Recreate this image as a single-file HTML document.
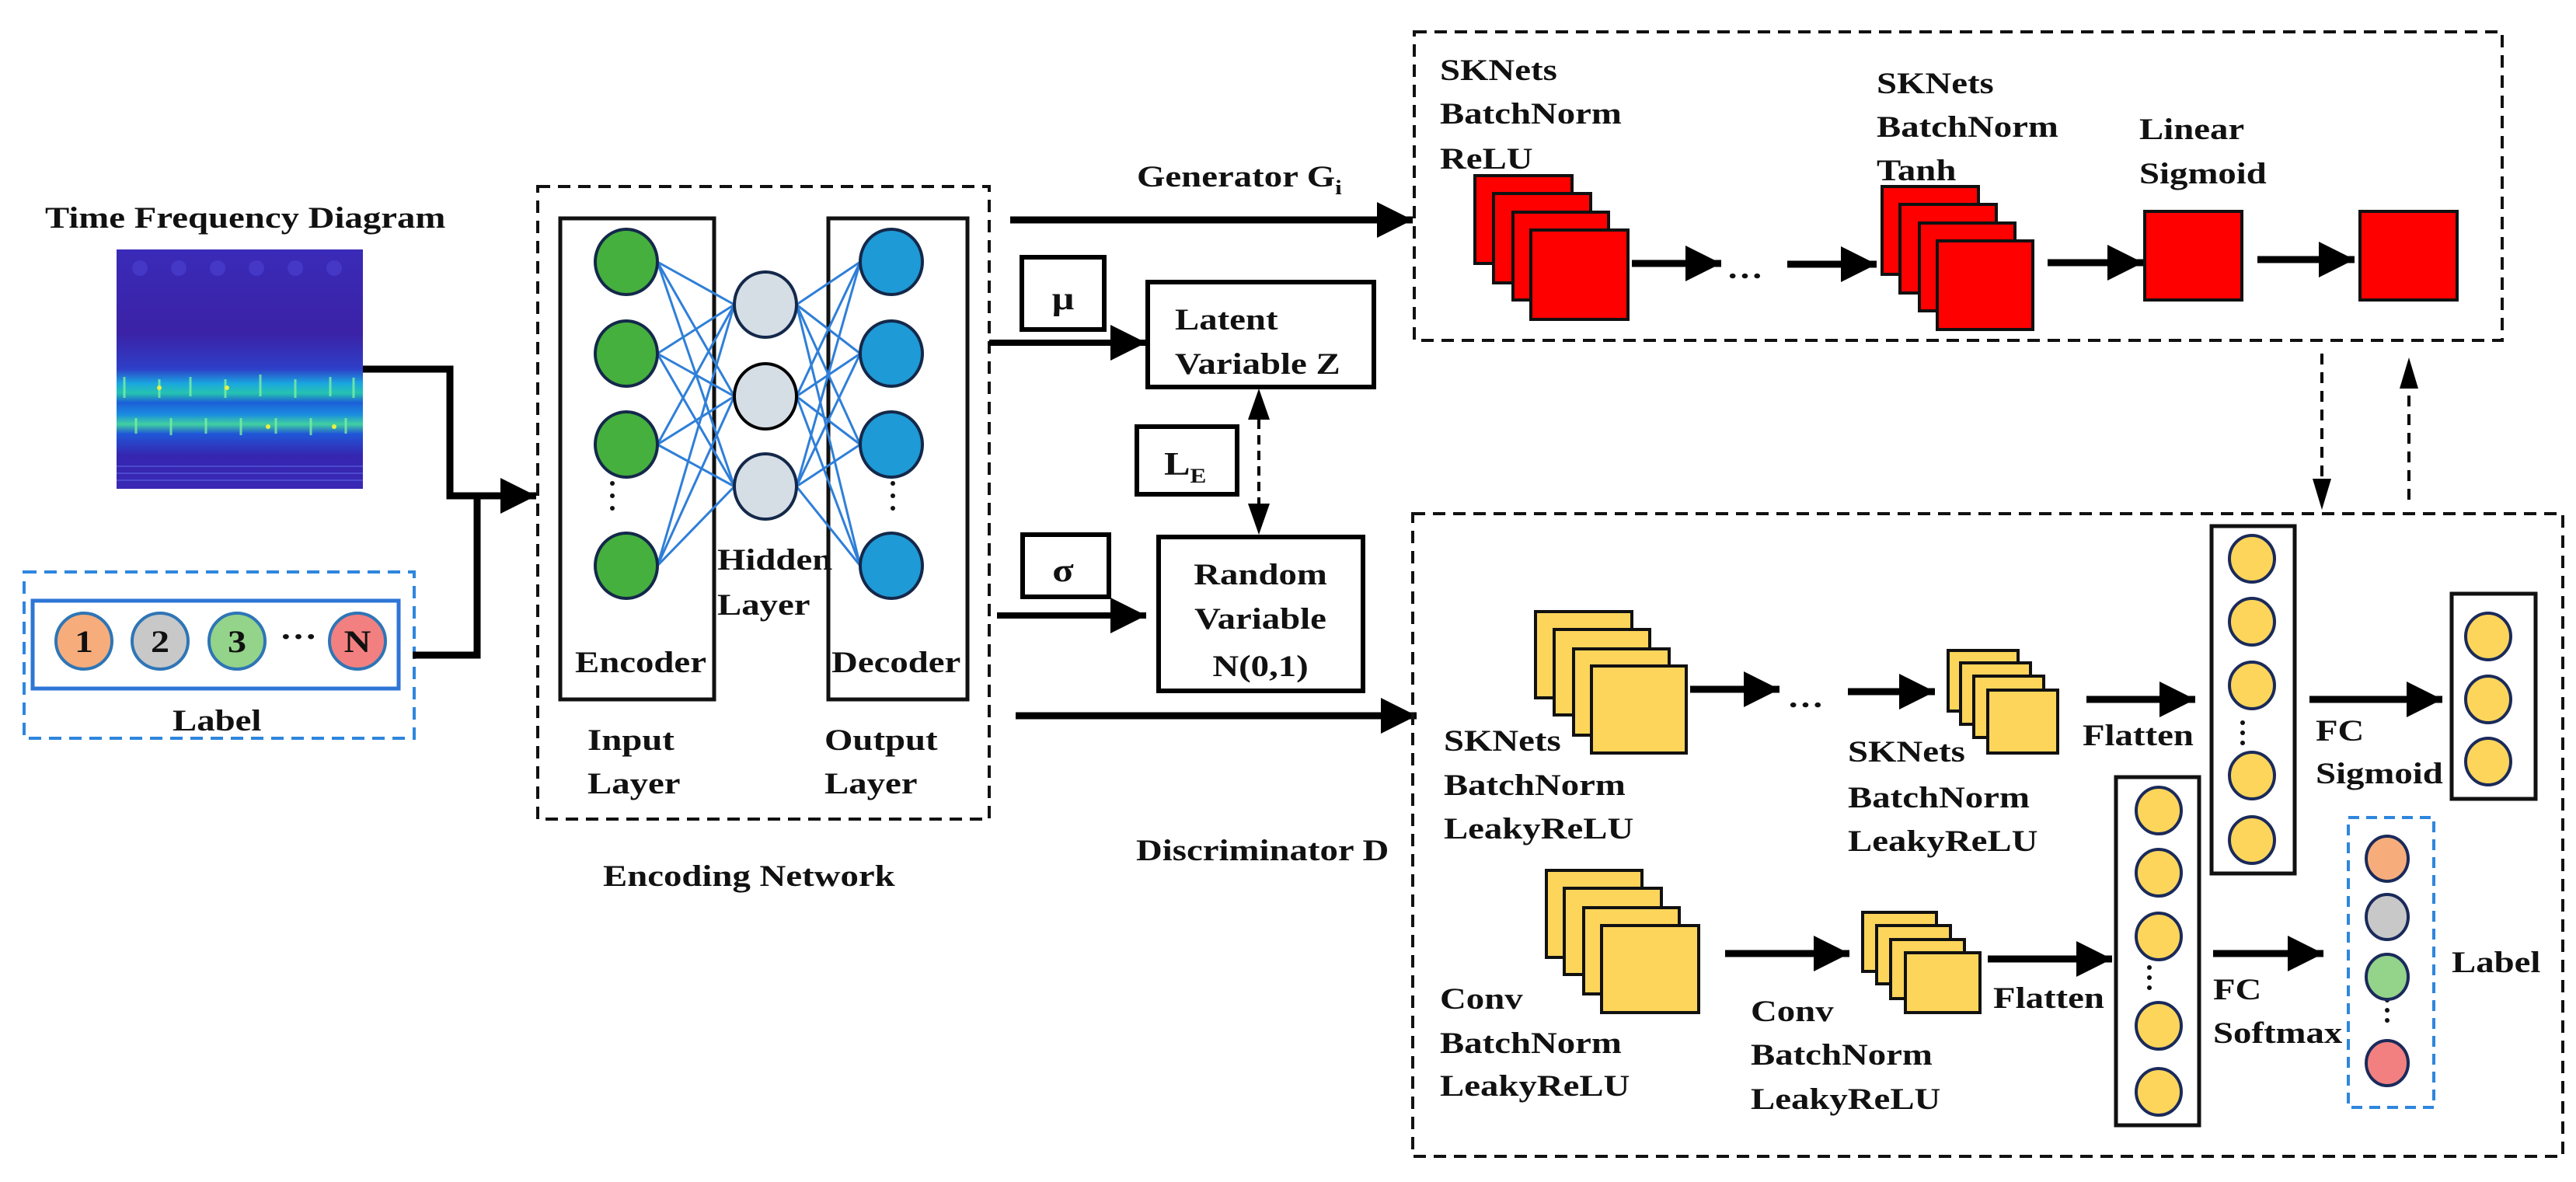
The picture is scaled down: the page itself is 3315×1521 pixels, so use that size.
<!DOCTYPE html>
<html><head><meta charset="utf-8"><style>html,body{margin:0;padding:0;background:#fff}svg{display:block}text{font-family:"Liberation Serif",serif;font-weight:bold;fill:#111}</style></head><body>
<svg xmlns="http://www.w3.org/2000/svg" width="3315" height="1521" viewBox="0 0 3315 1521">
<defs>
<marker id="ah" markerUnits="userSpaceOnUse" markerWidth="48" markerHeight="46" refX="46" refY="23" orient="auto"><path d="M0,0 L46,23 L0,46 Z" fill="#000"/></marker>
<linearGradient id="spec" x1="0" y1="0" x2="0" y2="1">
<stop offset="0" stop-color="#3a2bb8"/><stop offset="0.35" stop-color="#3b22a6"/><stop offset="0.5" stop-color="#2e3fc8"/>
<stop offset="0.56" stop-color="#1aa6e0"/><stop offset="0.6" stop-color="#25c4b0"/><stop offset="0.64" stop-color="#1c5fd8"/>
<stop offset="0.69" stop-color="#1b8de0"/><stop offset="0.73" stop-color="#40d0a0"/><stop offset="0.77" stop-color="#2057d8"/>
<stop offset="0.86" stop-color="#3526b0"/><stop offset="1" stop-color="#3a28b5"/></linearGradient>
</defs>

<rect x="150" y="321" width="317" height="308" fill="url(#spec)"/>
<g fill="#4a3fd0" opacity="0.7"><circle cx="180" cy="345" r="10"/><circle cx="230" cy="345" r="10"/><circle cx="280" cy="345" r="10"/><circle cx="330" cy="345" r="10"/><circle cx="380" cy="345" r="10"/><circle cx="430" cy="345" r="10"/></g>
<g stroke="#7df0a0" stroke-width="3" opacity="0.8">
<line x1="160" y1="485" x2="160" y2="512"/><line x1="205" y1="488" x2="205" y2="512"/><line x1="245" y1="485" x2="245" y2="510"/><line x1="290" y1="488" x2="290" y2="512"/><line x1="335" y1="482" x2="335" y2="510"/><line x1="380" y1="488" x2="380" y2="512"/><line x1="425" y1="485" x2="425" y2="510"/><line x1="455" y1="486" x2="455" y2="512"/>
<line x1="175" y1="538" x2="175" y2="558"/><line x1="220" y1="538" x2="220" y2="560"/><line x1="265" y1="538" x2="265" y2="558"/><line x1="310" y1="538" x2="310" y2="560"/><line x1="355" y1="538" x2="355" y2="558"/><line x1="400" y1="538" x2="400" y2="560"/><line x1="445" y1="538" x2="445" y2="558"/></g>
<g fill="#e8f040"><circle cx="205" cy="499" r="3"/><circle cx="292" cy="499" r="3"/><circle cx="345" cy="549" r="3"/><circle cx="430" cy="549" r="3"/></g>
<g stroke="#5a60e0" stroke-width="2" opacity="0.6"><line x1="150" y1="600" x2="467" y2="600"/><line x1="150" y1="609" x2="467" y2="609"/><line x1="150" y1="618" x2="467" y2="618"/></g>

<rect x="31" y="736" width="502" height="214" fill="none" stroke="#2e86de" stroke-width="4" stroke-dasharray="16,10"/>
<rect x="42" y="773" width="471" height="113" fill="none" stroke="#2e75d6" stroke-width="5"/>
<g stroke="#2e75b6" stroke-width="4">
<ellipse cx="108" cy="825" rx="36" ry="36" fill="#f6ad7b"/><ellipse cx="206" cy="825" rx="36" ry="36" fill="#c8c8c8"/>
<ellipse cx="305" cy="825" rx="36" ry="36" fill="#93d38a"/><ellipse cx="460" cy="825" rx="36" ry="36" fill="#f28080"/></g>

<polyline points="467,475 579,475 579,638 690,638" fill="none" stroke="#000" stroke-width="9" marker-end="url(#ah)"/>
<polyline points="531,843 614,843 614,638" fill="none" stroke="#000" stroke-width="9"/>

<rect x="692" y="240" width="581" height="814" fill="none" stroke="#111" stroke-width="4" stroke-dasharray="16,10"/>
<rect x="721" y="281" width="198" height="619" fill="none" stroke="#111" stroke-width="5"/>
<rect x="1066" y="281" width="179" height="619" fill="none" stroke="#111" stroke-width="5"/>
<g stroke="#2f7fd8" stroke-width="3">
<line x1="846" y1="337" x2="945" y2="392"/><line x1="846" y1="337" x2="945" y2="510"/><line x1="846" y1="337" x2="945" y2="626"/>
<line x1="846" y1="455" x2="945" y2="392"/><line x1="846" y1="455" x2="945" y2="510"/><line x1="846" y1="455" x2="945" y2="626"/>
<line x1="846" y1="572" x2="945" y2="392"/><line x1="846" y1="572" x2="945" y2="510"/><line x1="846" y1="572" x2="945" y2="626"/>
<line x1="846" y1="728" x2="945" y2="392"/><line x1="846" y1="728" x2="945" y2="510"/><line x1="846" y1="728" x2="945" y2="626"/>
<line x1="1025" y1="392" x2="1107" y2="337"/><line x1="1025" y1="392" x2="1107" y2="455"/><line x1="1025" y1="392" x2="1107" y2="572"/><line x1="1025" y1="392" x2="1107" y2="728"/>
<line x1="1025" y1="510" x2="1107" y2="337"/><line x1="1025" y1="510" x2="1107" y2="455"/><line x1="1025" y1="510" x2="1107" y2="572"/><line x1="1025" y1="510" x2="1107" y2="728"/>
<line x1="1025" y1="626" x2="1107" y2="337"/><line x1="1025" y1="626" x2="1107" y2="455"/><line x1="1025" y1="626" x2="1107" y2="572"/><line x1="1025" y1="626" x2="1107" y2="728"/>
</g>
<g stroke="#14284a" stroke-width="4">
<ellipse cx="806" cy="337" rx="40" ry="42" fill="#45b03d"/><ellipse cx="806" cy="455" rx="40" ry="42" fill="#45b03d"/><ellipse cx="806" cy="572" rx="40" ry="42" fill="#45b03d"/><ellipse cx="806" cy="728" rx="40" ry="42" fill="#45b03d"/>
<ellipse cx="985" cy="392" rx="40" ry="42" fill="#d5dde5"/><ellipse cx="985" cy="510" rx="40" ry="42" fill="#d5dde5" stroke="#000"/><ellipse cx="985" cy="626" rx="40" ry="42" fill="#d5dde5"/>
<ellipse cx="1147" cy="337" rx="40" ry="42" fill="#1e9ad6"/><ellipse cx="1147" cy="455" rx="40" ry="42" fill="#1e9ad6"/><ellipse cx="1147" cy="572" rx="40" ry="42" fill="#1e9ad6"/><ellipse cx="1147" cy="728" rx="40" ry="42" fill="#1e9ad6"/>
</g>
<g fill="#111"><circle cx="788" cy="622" r="3"/><circle cx="788" cy="638" r="3"/><circle cx="788" cy="654" r="3"/><circle cx="1149" cy="622" r="3"/><circle cx="1149" cy="638" r="3"/><circle cx="1149" cy="654" r="3"/></g>

<line x1="1300" y1="283" x2="1818" y2="283" stroke="#000" stroke-width="9" marker-end="url(#ah)"/>
<rect x="1315" y="331" width="106" height="93" fill="none" stroke="#000" stroke-width="6"/>
<line x1="1273" y1="441" x2="1475" y2="441" stroke="#000" stroke-width="8" marker-end="url(#ah)"/>
<rect x="1477" y="363" width="291" height="135" fill="none" stroke="#000" stroke-width="6"/>
<rect x="1463" y="549" width="129" height="87" fill="none" stroke="#000" stroke-width="6"/>
<line x1="1620" y1="540" x2="1620" y2="650" stroke="#000" stroke-width="4" stroke-dasharray="12,8"/>
<path d="M1620,500 L1606,540 L1634,540 Z M1620,688 L1606,648 L1634,648 Z" fill="#000"/>
<rect x="1316" y="688" width="111" height="80" fill="none" stroke="#000" stroke-width="6"/>
<line x1="1283" y1="792" x2="1475" y2="792" stroke="#000" stroke-width="8" marker-end="url(#ah)"/>
<rect x="1491" y="691" width="263" height="198" fill="none" stroke="#000" stroke-width="6"/>
<line x1="1307" y1="921" x2="1823" y2="921" stroke="#000" stroke-width="9" marker-end="url(#ah)"/>

<rect x="1820" y="41" width="1400" height="397" fill="none" stroke="#111" stroke-width="4" stroke-dasharray="16,10"/>
<g fill="#ff0000" stroke="#111" stroke-width="4">
<rect x="1898" y="226" width="125" height="113"/><rect x="1922" y="249" width="125" height="115"/><rect x="1947" y="273" width="123" height="113"/><rect x="1970" y="296" width="125" height="115"/>
<rect x="2422" y="240" width="124" height="113"/><rect x="2445" y="263" width="124" height="114"/><rect x="2470" y="287" width="123" height="113"/><rect x="2493" y="310" width="123" height="114"/>
<rect x="2760" y="272" width="125" height="114"/><rect x="3037" y="272" width="125" height="114"/></g>
<g stroke="#000" stroke-width="9">
<line x1="2100" y1="339" x2="2215" y2="339" marker-end="url(#ah)"/><line x1="2300" y1="340" x2="2415" y2="340" marker-end="url(#ah)"/>
<line x1="2635" y1="338" x2="2758" y2="338" marker-end="url(#ah)"/><line x1="2905" y1="334" x2="3030" y2="334" marker-end="url(#ah)"/></g>
<line x1="2988" y1="455" x2="2988" y2="620" stroke="#000" stroke-width="4" stroke-dasharray="14,10"/>
<path d="M2988,656 L2976,616 L3000,616 Z" fill="#000"/>
<line x1="3100" y1="643" x2="3100" y2="495" stroke="#000" stroke-width="4" stroke-dasharray="14,10"/>
<path d="M3100,460 L3088,500 L3112,500 Z" fill="#000"/>

<rect x="1818" y="661" width="1480" height="827" fill="none" stroke="#111" stroke-width="4" stroke-dasharray="16,10"/>
<g fill="#fcd55a" stroke="#111" stroke-width="4">
<rect x="1976" y="787" width="124" height="111"/><rect x="2000" y="810" width="123" height="110"/><rect x="2025" y="835" width="123" height="111"/><rect x="2048" y="857" width="122" height="112"/>
<rect x="2507" y="837" width="90" height="78"/><rect x="2523" y="853" width="90" height="79"/><rect x="2540" y="870" width="90" height="79"/><rect x="2558" y="888" width="90" height="81"/>
<rect x="1990" y="1120" width="123" height="112"/><rect x="2013" y="1143" width="125" height="111"/><rect x="2038" y="1168" width="123" height="111"/><rect x="2061" y="1191" width="125" height="112"/>
<rect x="2397" y="1174" width="95" height="76"/><rect x="2415" y="1191" width="95" height="75"/><rect x="2433" y="1209" width="95" height="76"/><rect x="2452" y="1226" width="96" height="77"/>
</g>
<g stroke="#000" stroke-width="9">
<line x1="2175" y1="887" x2="2290" y2="887" marker-end="url(#ah)"/><line x1="2378" y1="890" x2="2490" y2="890" marker-end="url(#ah)"/>
<line x1="2685" y1="900" x2="2825" y2="900" marker-end="url(#ah)"/><line x1="2972" y1="900" x2="3143" y2="900" marker-end="url(#ah)"/>
<line x1="2220" y1="1227" x2="2380" y2="1227" marker-end="url(#ah)"/><line x1="2558" y1="1234" x2="2718" y2="1234" marker-end="url(#ah)"/>
<line x1="2848" y1="1227" x2="2990" y2="1227" marker-end="url(#ah)"/></g>
<rect x="2846" y="677" width="107" height="447" fill="#fff" stroke="#111" stroke-width="5"/>
<rect x="3155" y="764" width="108" height="264" fill="none" stroke="#111" stroke-width="5"/>
<rect x="2723" y="1000" width="107" height="448" fill="#fff" stroke="#111" stroke-width="5"/>
<g fill="#fcd55a" stroke="#1a2a5a" stroke-width="4">
<ellipse cx="2898" cy="719" rx="29" ry="30"/><ellipse cx="2898" cy="800" rx="29" ry="30"/><ellipse cx="2898" cy="882" rx="29" ry="30"/><ellipse cx="2898" cy="998" rx="29" ry="30"/><ellipse cx="2898" cy="1081" rx="29" ry="30"/>
<ellipse cx="3202" cy="819" rx="29" ry="30"/><ellipse cx="3202" cy="900" rx="29" ry="30"/><ellipse cx="3202" cy="980" rx="29" ry="30"/>
<ellipse cx="2778" cy="1043" rx="29" ry="30"/><ellipse cx="2778" cy="1123" rx="29" ry="30"/><ellipse cx="2778" cy="1205" rx="29" ry="30"/><ellipse cx="2778" cy="1320" rx="29" ry="30"/><ellipse cx="2778" cy="1405" rx="29" ry="30"/>
</g>
<g fill="#111"><circle cx="2886" cy="930" r="3"/><circle cx="2886" cy="943" r="3"/><circle cx="2886" cy="956" r="3"/>
<circle cx="2766" cy="1245" r="3"/><circle cx="2766" cy="1258" r="3"/><circle cx="2766" cy="1271" r="3"/>
<circle cx="3072" cy="1287" r="3"/><circle cx="3072" cy="1300" r="3"/><circle cx="3072" cy="1313" r="3"/></g>
<rect x="3022" y="1052" width="110" height="373" fill="none" stroke="#2e86de" stroke-width="4" stroke-dasharray="14,9"/>
<g stroke="#1a2a5a" stroke-width="4">
<ellipse cx="3072" cy="1105" rx="27" ry="29" fill="#f6ad7b"/><ellipse cx="3072" cy="1180" rx="27" ry="29" fill="#c8c8c8"/>
<ellipse cx="3072" cy="1257" rx="27" ry="29" fill="#93d38a"/><ellipse cx="3072" cy="1368" rx="27" ry="29" fill="#f28080"/></g>

<g transform="scale(1.2,1)" font-size="39">
<text x="48.3" y="293">Time Frequency Diagram</text>
<g text-anchor="middle" font-size="40"><text x="90" y="839">1</text><text x="171.7" y="839">2</text><text x="254.2" y="839">3</text><text x="383.3" y="839">N</text><text x="320" y="822">…</text></g>
<text x="185" y="940">Label</text>
<text x="769.2" y="733">Hidden</text><text x="769.2" y="791">Layer</text>
<text x="616.7" y="865">Encoder</text><text x="891.7" y="865">Decoder</text>
<text x="630" y="965">Input</text><text x="630" y="1021">Layer</text>
<text x="884.2" y="965">Output</text><text x="884.2" y="1021">Layer</text>
<text x="646.7" y="1140">Encoding Network</text>
<text x="1219.2" y="240">Generator G<tspan font-size="26" dy="10">i</tspan></text>
<text x="1140" y="398" text-anchor="middle" font-size="42">μ</text>
<text x="1140" y="748" text-anchor="middle" font-size="42">σ</text>
<text x="1260" y="424">Latent</text><text x="1260" y="481">Variable Z</text>
<text x="1248.3" y="611" font-size="42">L<tspan font-size="26" dy="10">E</tspan></text>
<g text-anchor="middle"><text x="1351.7" y="752">Random</text><text x="1351.7" y="809">Variable</text><text x="1351.7" y="870">N(0,1)</text></g>
<text x="1218.3" y="1107">Discriminator D</text>
<text x="1544.2" y="103">SKNets</text><text x="1544.2" y="159">BatchNorm</text><text x="1544.2" y="217">ReLU</text>
<text x="2012.5" y="120">SKNets</text><text x="2012.5" y="176">BatchNorm</text><text x="2012.5" y="232">Tanh</text>
<text x="2294.2" y="179">Linear</text><text x="2294.2" y="236">Sigmoid</text>
<text x="1851.7" y="358">…</text>
<text x="1548.3" y="966">SKNets</text><text x="1548.3" y="1023">BatchNorm</text><text x="1548.3" y="1079">LeakyReLU</text>
<text x="1981.7" y="980">SKNets</text><text x="1981.7" y="1039">BatchNorm</text><text x="1981.7" y="1095">LeakyReLU</text>
<text x="1916.7" y="910">…</text>
<text x="1544.2" y="1298">Conv</text><text x="1544.2" y="1355">BatchNorm</text><text x="1544.2" y="1410">LeakyReLU</text>
<text x="1877.5" y="1314">Conv</text><text x="1877.5" y="1370">BatchNorm</text><text x="1877.5" y="1427">LeakyReLU</text>
<text x="2233.3" y="959">Flatten</text><text x="2137.5" y="1297">Flatten</text>
<text x="2483.3" y="953">FC</text><text x="2483.3" y="1008">Sigmoid</text>
<text x="2373.3" y="1286">FC</text><text x="2373.3" y="1342">Softmax</text>
<text x="2629.2" y="1251">Label</text>
</g>
</svg>
</body></html>
